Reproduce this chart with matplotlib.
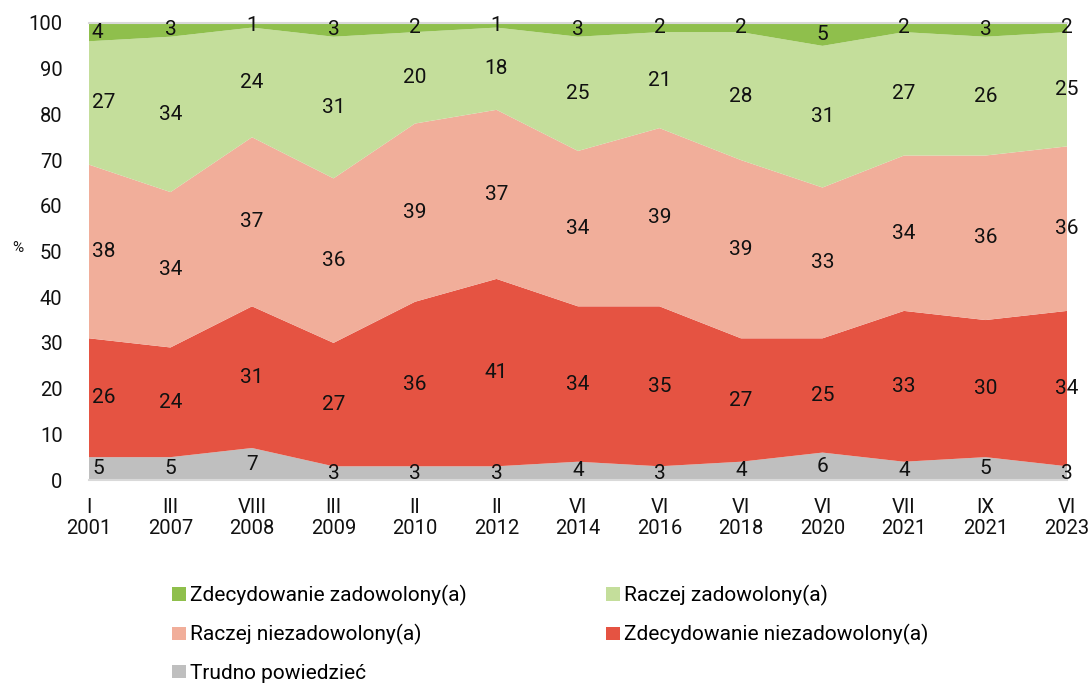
import matplotlib
matplotlib.use("Agg")
import matplotlib.pyplot as plt
from matplotlib.patches import Patch
import numpy as np

plt.rcParams['font.family'] = ['Roboto', 'DejaVu Sans']

months = ["I", "III", "VIII", "III", "II", "II", "VI", "VI", "VI", "VI", "VII", "IX", "VI"]
years = ["2001", "2007", "2008", "2009", "2010", "2012", "2014", "2016", "2018", "2020", "2021", "2021", "2023"]

trudno = [5, 5, 7, 3, 3, 3, 4, 3, 4, 6, 4, 5, 3]
zdec_niezad = [26, 24, 31, 27, 36, 41, 34, 35, 27, 25, 33, 30, 34]
raczej_niezad = [38, 34, 37, 36, 39, 37, 34, 39, 39, 33, 34, 36, 36]
raczej_zad = [27, 34, 24, 31, 20, 18, 25, 21, 28, 31, 27, 26, 25]
zdec_zad = [4, 3, 1, 3, 2, 1, 3, 2, 2, 5, 2, 3, 2]

series = [trudno, zdec_niezad, raczej_niezad, raczej_zad, zdec_zad]
names = ["Trudno powiedzieć", "Zdecydowanie niezadowolony(a)", "Raczej niezadowolony(a)",
         "Raczej zadowolony(a)", "Zdecydowanie zadowolony(a)"]
colors = ["#bfbfbf", "#e55342", "#f1ae9a", "#c4de9b", "#8fbf4c"]

fig = plt.figure(figsize=(10.89, 6.83), dpi=100)
ax = fig.add_axes([89/1089, 1-480/683, (1067-89)/1089, (480-23)/683])

x = np.arange(len(months))
ax.stackplot(x, *series, colors=colors, linewidth=0)

FS = 15
cum = np.zeros(len(x))
for s in series:
    s = np.array(s, dtype=float)
    mid = cum + s / 2
    for i in range(len(x)):
        if i == 0:
            ax.annotate(str(int(s[i])), (x[i], mid[i]), xytext=(3, 0), textcoords='offset pixels',
                        ha='left', va='center', fontsize=FS, color='#111111')
        else:
            ax.text(x[i], mid[i], str(int(s[i])), ha='center', va='center', fontsize=FS,
                    color='#111111', clip_on=False)
    cum += s

ax.set_xlim(0, len(x) - 1)
ax.set_ylim(0, 100)
ax.set_yticks(range(0, 101, 10))
ax.set_xticks(x)
ax.set_xticklabels([f"{m}\n{y}" for m, y in zip(months, years)], fontsize=14.5, linespacing=1.15)
ax.tick_params(axis='both', length=0, labelsize=14.5, colors='#111111')
ax.tick_params(axis='y', pad=19)
ax.tick_params(axis='x', pad=13)
for sp in ['left', 'right']:
    ax.spines[sp].set_visible(False)
for sp in ['top', 'bottom']:
    ax.spines[sp].set_color('#d9d9d9')
    ax.spines[sp].set_linewidth(1.5)

fig.text(18/1089, 1-248/683, "%", fontsize=11, ha='center', va='center', color='#111111')

handles = {n: Patch(facecolor=c, edgecolor='none') for n, c in zip(names, colors)}
order = ["Zdecydowanie zadowolony(a)", "Raczej niezadowolony(a)", "Trudno powiedzieć",
         "Raczej zadowolony(a)", "Zdecydowanie niezadowolony(a)"]
leg = fig.legend([handles[n] for n in order], order, ncol=2, loc='upper left',
                 bbox_to_anchor=(153/1089, 1-566/683), frameon=False, fontsize=15,
                 handlelength=0.67, handleheight=0.62, handletextpad=0.2,
                 columnspacing=6.7, labelspacing=0.89)

fig.savefig("out.png", dpi=100)
